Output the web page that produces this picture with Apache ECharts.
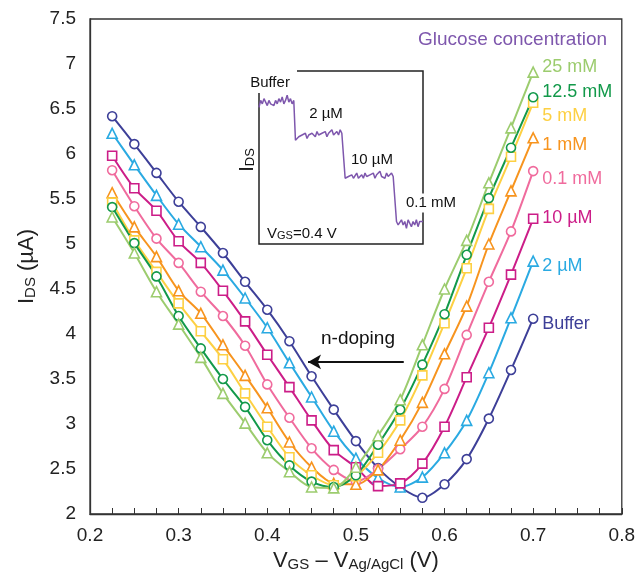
<!DOCTYPE html>
<html>
<head>
<meta charset="utf-8">
<script src="https://cdn.jsdelivr.net/npm/echarts@6/dist/echarts.min.js"></script>
<style>
  html, body { margin: 0; background: #fff; }
  #chart { width: 638px; height: 577px; }
</style>
</head>
<body>
<div id="chart"></div>
<script>
// gate voltage, V_GS - V_Ag/AgCl (V)
const vgs = [0.225, 0.25, 0.275, 0.3, 0.325, 0.35, 0.375, 0.4, 0.425, 0.45,
             0.475, 0.5, 0.525, 0.55, 0.575, 0.6, 0.625, 0.65, 0.675, 0.7]

// I_DS (uA) for each glucose concentration
const buffer = [6.42, 6.11, 5.79, 5.47, 5.19, 4.9, 4.58, 4.27, 3.92, 3.53, 3.16, 2.81, 2.51, 2.3, 2.18, 2.33, 2.61, 3.06, 3.6, 4.17]
const uM2    = [6.23, 5.88, 5.54, 5.22, 4.97, 4.71, 4.4, 4.07, 3.68, 3.3, 2.92, 2.62, 2.4, 2.3, 2.41, 2.68, 3.04, 3.57, 4.18, 4.81]
const uM10   = [5.98, 5.62, 5.37, 5.03, 4.79, 4.48, 4.14, 3.77, 3.41, 3.04, 2.71, 2.52, 2.31, 2.34, 2.56, 2.97, 3.52, 4.07, 4.66, 5.28]
const mM01   = [5.82, 5.42, 5.06, 4.79, 4.47, 4.2, 3.87, 3.44, 3.07, 2.73, 2.49, 2.36, 2.5, 2.72, 2.97, 3.39, 3.99, 4.58, 5.14, 5.81]
const mM1    = [5.57, 5.19, 4.86, 4.48, 4.23, 3.88, 3.54, 3.18, 2.8, 2.52, 2.34, 2.33, 2.49, 2.82, 3.24, 3.78, 4.31, 5.0, 5.59, 6.18]
const mM5    = [5.46, 5.04, 4.69, 4.34, 4.03, 3.72, 3.34, 2.97, 2.63, 2.43, 2.32, 2.42, 2.68, 3.04, 3.54, 4.12, 4.73, 5.39, 5.97, 6.57]
const mM125  = [5.41, 5.01, 4.64, 4.2, 3.84, 3.5, 3.19, 2.82, 2.54, 2.36, 2.3, 2.43, 2.77, 3.16, 3.66, 4.22, 4.88, 5.51, 6.07, 6.63]
const mM25   = [5.3, 4.9, 4.47, 4.11, 3.74, 3.34, 3.01, 2.68, 2.47, 2.3, 2.29, 2.52, 2.87, 3.27, 3.88, 4.5, 5.04, 5.68, 6.29, 6.91]

// inset: real-time I_DS trace at V_GS = 0.4 V (arbitrary units)
const insetBuffer = [7.9, 8.3, 8.1, 8.4, 8.2, 8.0, 8.3, 8.1, 8.2, 8.0, 8.3, 8.1, 8.4, 8.2, 8.5, 8.1, 8.3, 8.6, 8.2, 8.4, 8.1, 8.3]
const inset2uM = [6.0, 5.9, 6.2, 6.1, 6.3, 6.2, 6.4, 6.1, 6.3, 6.2, 6.4, 6.3, 6.2, 6.5, 6.3, 6.2, 6.4, 6.3, 6.5, 6.2, 6.4, 6.3, 6.6, 6.3, 6.4, 6.5, 6.3, 6.6, 6.4, 6.5]
const inset10uM = [3.8, 3.7, 3.9, 3.8, 4.0, 3.8, 3.9, 4.1, 3.8, 3.9, 4.0, 3.8, 4.1, 3.9, 3.8, 4.0, 3.9, 4.1, 3.8, 4.0, 3.9, 4.2, 3.9, 4.0, 3.8, 4.1, 3.9, 4.0, 4.1, 3.9, 4.0]
const inset01mM = [1.3, 1.1, 1.0, 1.4, 1.1, 1.3, 0.9, 1.4, 1.2, 1.0, 1.3, 1.1, 1.4, 1.0, 1.3, 1.2, 1.3]

const FONT = "'Liberation Sans', Arial, sans-serif"
const INK = '#222'
const PURPLE = '#7e57ad'

const curves = [
  { name: 'Buffer',  data: buffer, color: '#3d3f98', symbol: 'circle',   dy: 5 },
  { name: '2 µM',    data: uM2,    color: '#2aaae2', symbol: 'triangle', dy: 5 },
  { name: '10 µM',   data: uM10,   color: '#cc1d88', symbol: 'rect',     dy: -1 },
  { name: '0.1 mM',  data: mM01,   color: '#f06b9d', symbol: 'circle',   dy: 8 },
  { name: '1 mM',    data: mM1,    color: '#f7941e', symbol: 'triangle', dy: 7 },
  { name: '5 mM',    data: mM5,    color: '#fdd043', symbol: 'rect',     dy: 13 },
  { name: '12.5 mM', data: mM125,  color: '#12994a', symbol: 'circle',   dy: -5 },
  { name: '25 mM',   data: mM25,   color: '#9ccc6e', symbol: 'triangle', dy: -5 }
]

const sizes = { circle: 9, triangle: 10, rect: 9 }

const series = curves.map(c => ({
  name: c.name,
  type: 'line',
  data: vgs.map((x, i) => [x, c.data[i]]),
  smooth: 0.3,
  symbol: c.symbol,
  symbolSize: sizes[c.symbol],
  lineStyle: { color: c.color, width: 2 },
  itemStyle: { color: '#fff', borderColor: c.color, borderWidth: 1.6 },
  endLabel: {
    show: true,
    formatter: c.name,
    color: c.color,
    fontFamily: FONT,
    fontSize: 18,
    distance: 4,
    offset: [5, c.dy]
  },
  animation: false
}))

// n-doping arrow on the buffer curve
series[0].markLine = {
  silent: true,
  symbol: ['none', 'arrow'],
  symbolSize: [11, 13],
  label: { show: false },
  lineStyle: { color: '#111', width: 2, type: 'solid' },
  data: [[{ coord: [0.554, 3.69] }, { coord: [0.446, 3.69] }]]
}

const insetTrace = [...insetBuffer, ...inset2uM, ...inset10uM, ...inset01mM]

series.push({
  type: 'line',
  xAxisIndex: 1,
  yAxisIndex: 1,
  data: insetTrace,
  symbol: 'none',
  lineStyle: { color: PURPLE, width: 1.5 },
  animation: false
})

const subRich = {
  n: { fontFamily: FONT, fontSize: 22, color: INK },
  s: { fontFamily: FONT, fontSize: 15, color: INK, verticalAlign: 'bottom' }
}

const chart = echarts.init(document.getElementById('chart'))
chart.setOption({
  backgroundColor: '#fff',
  animation: false,
  grid: [
    { left: 90, top: 19, right: 16, bottom: 63, show: true, borderColor: '#333', borderWidth: 1.3 },
    { left: 259, top: 71, width: 164, height: 173, show: true, borderColor: '#222', borderWidth: 1.5 }
  ],
  xAxis: [
    {
      type: 'value',
      min: 0.2, max: 0.8, interval: 0.1,
      name: '{n|V}{s|GS}{n| – V}{s|Ag/AgCl}{n| (V)}',
      nameLocation: 'middle',
      nameGap: 34,
      nameTextStyle: { rich: subRich },
      axisLine: { lineStyle: { color: '#333', width: 1.3 } },
      axisTick: { inside: true, length: 6, lineStyle: { color: '#333' } },
      minorTick: { show: true, splitNumber: 4, length: 6, lineStyle: { color: '#333' } },
      splitLine: { show: false },
      axisLabel: { color: INK, fontFamily: FONT, fontSize: 19, margin: 12, formatter: v => v.toFixed(1) }
    },
    {
      gridIndex: 1, type: 'category', show: false, boundaryGap: false,
      data: insetTrace.map((_, i) => i)
    }
  ],
  yAxis: [
    {
      type: 'value',
      min: 2, max: 7.5, interval: 0.5,
      name: '{n|I}{s|DS}{n| (µA)}',
      nameLocation: 'middle',
      nameGap: 52,
      nameTextStyle: { rich: subRich },
      axisLine: { show: true, lineStyle: { color: '#333', width: 1.3 } },
      axisTick: { show: false },
      splitLine: { show: false },
      axisLabel: { color: INK, fontFamily: FONT, fontSize: 19, margin: 14 }
    },
    { gridIndex: 1, type: 'value', min: 0, max: 10, show: false }
  ],
  graphic: [
    {
      type: 'text', x: 418, y: 40, z: 100,
      style: { text: 'Glucose concentration', fill: PURPLE, font: `19px ${FONT}`, align: 'left', verticalAlign: 'middle' }
    },
    {
      type: 'text', x: 358, y: 339, z: 100,
      style: { text: 'n-doping', fill: '#111', font: `19px ${FONT}`, align: 'center', verticalAlign: 'middle' }
    },
    { type: 'rect', z: 100, shape: { x: 244, y: 62, width: 53, height: 31 }, style: { fill: '#fff' } },
    {
      type: 'text', x: 270, y: 83, z: 101,
      style: { text: 'Buffer', fill: '#111', font: `15px ${FONT}`, align: 'center', verticalAlign: 'middle' }
    },
    {
      type: 'text', x: 326, y: 114, z: 101,
      style: { text: '2 µM', fill: '#111', font: `15px ${FONT}`, align: 'center', verticalAlign: 'middle' }
    },
    {
      type: 'text', x: 372, y: 160, z: 101,
      style: { text: '10 µM', fill: '#111', font: `15px ${FONT}`, align: 'center', verticalAlign: 'middle' }
    },
    {
      type: 'text', x: 431, y: 203, z: 101,
      style: { text: '0.1 mM', fill: '#111', font: `15px ${FONT}`, align: 'center', verticalAlign: 'middle', backgroundColor: '#fff', padding: [2, 2] }
    },
    {
      type: 'text', x: 247, y: 160, z: 101, rotation: Math.PI / 2,
      style: {
        text: '{n|I}{s|DS}', align: 'center', verticalAlign: 'middle',
        rich: {
          n: { fontFamily: FONT, fontSize: 20, fill: '#111' },
          s: { fontFamily: FONT, fontSize: 13, fill: '#111', verticalAlign: 'bottom' }
        }
      }
    },
    {
      type: 'text', x: 267, y: 234, z: 101,
      style: {
        text: '{n|V}{s|GS}{n|=0.4 V}', align: 'left', verticalAlign: 'middle',
        rich: {
          n: { fontFamily: FONT, fontSize: 15, fill: '#111' },
          s: { fontFamily: FONT, fontSize: 11, fill: '#111', verticalAlign: 'bottom' }
        }
      }
    }
  ],
  series
})
</script>
</body>
</html>
